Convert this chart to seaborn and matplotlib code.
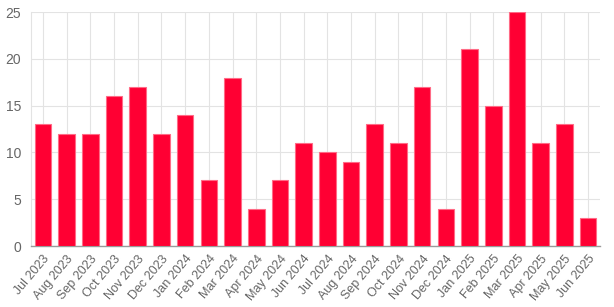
import matplotlib
matplotlib.use("Agg")
import matplotlib.pyplot as plt
import seaborn as sns
import pandas as pd

months = ["Jul 2023", "Aug 2023", "Sep 2023", "Oct 2023", "Nov 2023", "Dec 2023",
          "Jan 2024", "Feb 2024", "Mar 2024", "Apr 2024", "May 2024", "Jun 2024",
          "Jul 2024", "Aug 2024", "Sep 2024", "Oct 2024", "Nov 2024", "Dec 2024",
          "Jan 2025", "Feb 2025", "Mar 2025", "Apr 2025", "May 2025", "Jun 2025"]
counts = [13, 12, 12, 16, 17, 12, 14, 7, 18, 4, 7, 11,
          10, 9, 13, 11, 17, 4, 21, 15, 25, 11, 13, 3]
y_ticks = [0, 5, 10, 15, 20, 25]

df = pd.DataFrame({"month": months, "count": counts})

sns.set_theme(style="white")
plt.rcParams['font.family'] = ['Liberation Sans', 'DejaVu Sans']

fig = plt.figure(figsize=(6.14, 3.07), dpi=100)
ax = fig.add_axes([31/614, 1 - 246/307, (600-31)/614, (246-12)/307])

sns.barplot(data=df, x="month", y="count", ax=ax, color="#ff0033",
            saturation=1, width=0.7, edgecolor="#ff6b86", linewidth=0.8, zorder=3)

ax.set_ylim(0, 25)
ax.set_xlim(-0.5, len(months) - 0.5)
ax.set_yticks(y_ticks)
ax.set_xlabel("")
ax.set_ylabel("")
ax.grid(True, color="#e3e3e3", linewidth=0.8, zorder=0)
ax.set_axisbelow(True)
for s in ["top", "right"]:
    ax.spines[s].set_visible(False)
ax.spines["left"].set_color("#e3e3e3")
ax.spines["bottom"].set_color("#9a9a9a")
ax.spines["left"].set_linewidth(0.8)
ax.spines["bottom"].set_linewidth(1.0)
ax.tick_params(axis="x", length=4, color="#e3e3e3", labelsize=9,
               labelcolor="#666666", pad=1)
ax.tick_params(axis="y", length=5, color="#e3e3e3", labelsize=10,
               labelcolor="#666666", pad=2)
plt.setp(ax.get_xticklabels(), rotation=50, ha="right", rotation_mode="anchor")

fig.savefig("out.png", dpi=100)
